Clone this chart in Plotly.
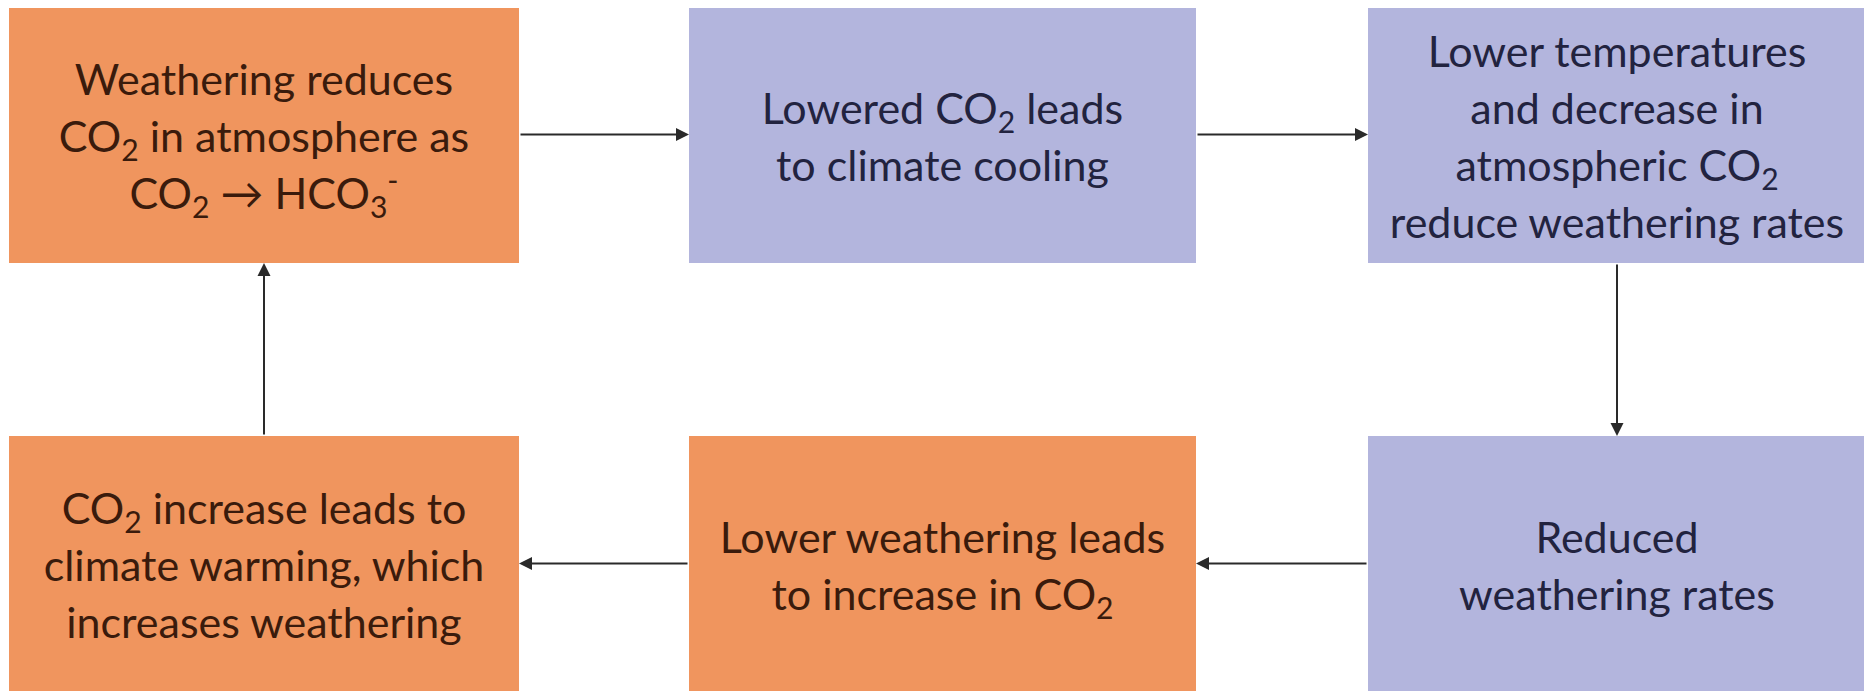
import plotly.graph_objects as go

# ---- content ----
box_lines = [
    ["Weathering reduces", "CO<sub>2</sub> in atmosphere as", "CO<sub>2</sub> \u2192 HCO<sub>3</sub><sup>-</sup>"],
    ["Lowered CO<sub>2</sub> leads", "to climate cooling"],
    ["Lower temperatures", "and decrease in", "atmospheric CO<sub>2</sub>", "reduce weathering rates"],
    ["CO<sub>2</sub> increase leads to", "climate warming, which", "increases weathering"],
    ["Lower weathering leads", "to increase in CO<sub>2</sub>"],
    ["Reduced", "weathering rates"],
]
box_kind = ["warm", "cool", "cool", "warm", "warm", "cool"]
box_col = [0, 1, 2, 0, 1, 2]
box_row = [0, 0, 0, 1, 1, 1]
# arrows: (from box, to box)
links = [(0, 1), (1, 2), (2, 5), (5, 4), (4, 3), (3, 0)]

# ---- layout / style ----
W, H = 1872, 694
PAGE_MARGIN = 8  # browser default body margin
col_left = [9, 689, 1368]
col_right = [519, 1196, 1866]
row_top = [6, 436]
row_bottom = [263, 691]
fill = {"warm": "#F0955E", "cool": "#B3B5DD"}
ink = {"warm": "#3A1B0C", "cool": "#22233F"}
FONT = "Lato"
FSIZE = 43
LINE_GAP = 57
TEXT_DROP = 7

fig = go.Figure()
shapes, annotations = [], []


def box_geom(i):
    x0, x1 = col_left[box_col[i]], col_right[box_col[i]]
    y0, y1 = row_top[box_row[i]], row_bottom[box_row[i]]
    return x0, x1, y0, y1


for i, lines in enumerate(box_lines):
    x0, x1, y0, y1 = box_geom(i)
    shapes.append(dict(type="rect", xref="x", yref="y", x0=x0, x1=x1, y0=y0, y1=y1,
                       fillcolor=fill[box_kind[i]], line=dict(width=0), layer="below"))
    xc, yc = (x0 + x1) / 2, (y0 + y1) / 2 + TEXT_DROP
    n = len(lines)
    ys = [yc + (k - (n - 1) / 2) * LINE_GAP for k in range(n)]
    fig.add_trace(go.Scatter(
        x=[xc] * n, y=ys, text=lines, mode="text", textposition="middle center",
        textfont=dict(family=FONT, size=FSIZE, color=ink[box_kind[i]]),
        hoverinfo="skip", showlegend=False, cliponaxis=False,
    ))

for a, b in links:
    ax0, ax1, ay0, ay1 = box_geom(a)
    bx0, bx1, by0, by1 = box_geom(b)
    if box_row[a] == box_row[b]:
        yc = (ay0 + ay1) / 2
        if box_col[b] > box_col[a]:
            tail, tip = ax1, bx0
        else:
            tail, tip = ax0, bx1
        annotations.append(dict(x=tip, y=yc, ax=tail, ay=yc, xref="x", yref="y", axref="x", ayref="y",
                                showarrow=True, arrowhead=2, arrowsize=1.3, arrowwidth=2,
                                arrowcolor="#2a2a2a", standoff=0, text=""))
    else:
        xc = (ax0 + ax1) / 2
        if box_row[b] > box_row[a]:
            tail, tip = ay1, by0
        else:
            tail, tip = ay0, by1
        annotations.append(dict(x=xc, y=tip, ax=xc, ay=tail, xref="x", yref="y", axref="x", ayref="y",
                                showarrow=True, arrowhead=2, arrowsize=1.3, arrowwidth=2,
                                arrowcolor="#2a2a2a", standoff=0, text=""))

fig.update_layout(
    width=W, height=H, margin=dict(l=0, r=0, t=0, b=0),
    paper_bgcolor="white", plot_bgcolor="white",
    xaxis=dict(range=[PAGE_MARGIN, W + PAGE_MARGIN], visible=False, fixedrange=True),
    yaxis=dict(range=[H + PAGE_MARGIN, PAGE_MARGIN], visible=False, fixedrange=True),
    shapes=shapes, annotations=annotations, showlegend=False,
)
fig.write_html("out.html")
